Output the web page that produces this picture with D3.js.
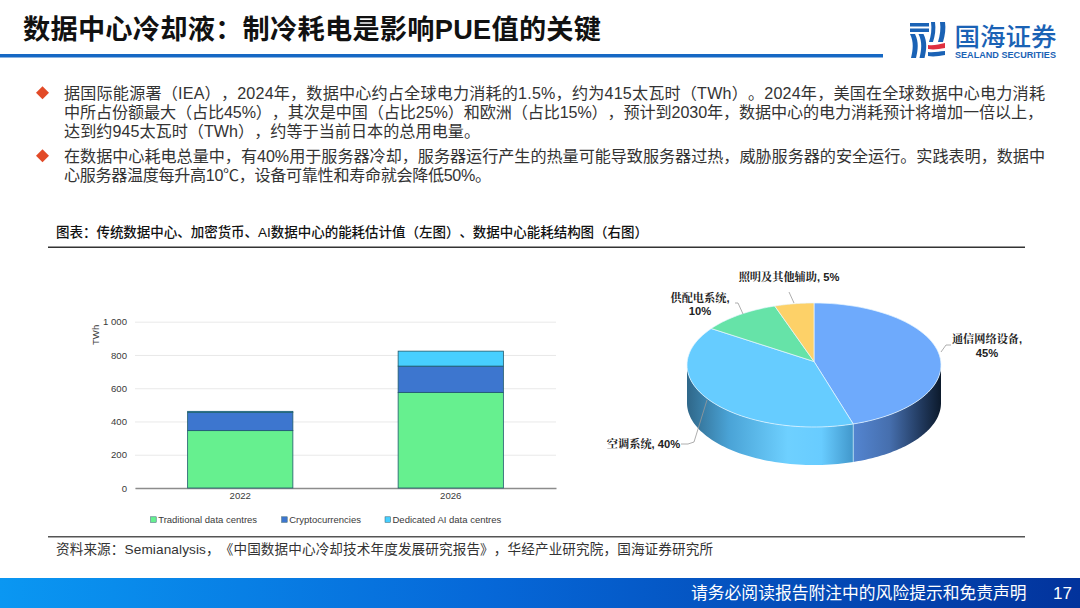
<!DOCTYPE html>
<html><head><meta charset="utf-8">
<script src="https://cdn.jsdelivr.net/npm/d3@7/dist/d3.min.js"></script>
<style>html,body{margin:0;padding:0;background:#fff}svg{display:block}
text{font-family:"Liberation Sans","Noto Sans CJK SC",sans-serif;white-space:pre;text-spacing-trim:space-all}</style></head>
<body><svg id="c" width="1080" height="608"></svg>
<script>
const titleText = "数据中心冷却液：制冷耗电是影响PUE值的关键";
const bulletLines = [
 "据国际能源署（IEA），2024年，数据中心约占全球电力消耗的1.5%，约为415太瓦时（TWh）。2024年，美国在全球数据中心电力消耗",
 "中所占份额最大（占比45%），其次是中国（占比25%）和欧洲（占比15%），预计到2030年，数据中心的电力消耗预计将增加一倍以上，",
 "达到约945太瓦时（TWh），约等于当前日本的总用电量。",
 "在数据中心耗电总量中，有40%用于服务器冷却，服务器运行产生的热量可能导致服务器过热，威胁服务器的安全运行。实践表明，数据中",
 "心服务器温度每升高10℃，设备可靠性和寿命就会降低50%。"
];
const bulletMarks = [1,0,0,1,0];
const figureTitle = "图表：传统数据中心、加密货币、AI数据中心的能耗估计值（左图）、数据中心能耗结构图（右图）";
const sourceText = "资料来源：Semianalysis，《中国数据中心冷却技术年度发展研究报告》，华经产业研究院，国海证券研究所";
const footerText = "请务必阅读报告附注中的风险提示和免责声明";
const pageNo = "17";

const years = ["2022","2026"];
const seriesNames = ["Traditional data centres","Cryptocurrencies","Dedicated AI data centres"];
const traditional = [345,575];
const crypto = [110,158];
const dedicatedAI = [6,90];
const yTicks = [0,200,400,600,800,1000];
const barColors = ["#66f08f","#3d76cf","#47cfff"];

const pieNames = ["通信网络设备","空调系统","供配电系统","照明及其他辅助"];
const pieValues = [45,40,10,5];
const pieColors = ["#6eaafc","#66ccff","#66e3a8","#fdd168"];

const svg = d3.select("#c");
const defs = svg.append("defs");
function grad(id,x1,x2,stops){
  const g=defs.append("linearGradient").attr("id",id).attr("gradientUnits","userSpaceOnUse")
   .attr("x1",x1).attr("x2",x2).attr("y1",0).attr("y2",0);
  stops.forEach(s=>g.append("stop").attr("offset",s[0]).attr("stop-color",s[1]));
}
grad("foot",0,1080,[[0,"#0a97f2"],[0.45,"#0668d8"],[1,"#02339c"]]);
grad("wall1",855,941,[[0,"#5384cf"],[0.4,"#466fae"],[0.75,"#233c62"],[1,"#0c1a2c"]]);
grad("wall2",687,855,[[0,"#2f6789"],[0.25,"#4aa3d6"],[0.6,"#6ed0ff"],[0.8,"#68ccff"],[1,"#3f94c8"]]);

// header
svg.append("text").attr("x",23).attr("y",39).attr("font-size",27.2).attr("font-weight",700).attr("fill","#111").attr("textLength",578).text(titleText);
svg.append("rect").attr("x",0).attr("y",54).attr("width",883).attr("height",3.5).attr("fill","#1668c4");

// logo
const logo = svg.append("g").attr("fill","#1a62b5");
logo.append("path").attr("d","M910 23h19v3.5h-19zM910 28.5h19v3.5h-19zM910 34h5c4 8 3 16 1 24h-5c2-8 3-16-1-24zM918.500 34h5c4 8 3 16 1 24h-5c2-8 3-16-1-24zM931 22h4c1 7 0 14-2 20h-4c2-6 3-13 2-20zM940 22h5c1 7 0 13-2 20h-5c2-7 3-13 2-20z");
logo.append("path").attr("d","M928 45c6 1 11-1 17-2v5c-6 1-11 2-17 1z").attr("fill","#e03040");
logo.append("path").attr("d","M928 52c6 1 11-1 17-1v4c-6 1-11 2-17 1z");
logo.append("text").attr("x",954.5).attr("y",45.5).attr("font-size",25.5).attr("font-weight",500).text("国海证券");
logo.append("text").attr("x",955).attr("y",58).attr("font-size",9).attr("font-weight",700).attr("textLength",101).attr("lengthAdjust","spacingAndGlyphs").text("SEALAND SECURITIES");

// bullets
const lineY=[99,118,137,162,181];
const lineLen=[981,979,416,981,427];
bulletLines.forEach((l,i)=>{
  svg.append("text").attr("x",64).attr("y",lineY[i]).attr("font-size",16.1).attr("fill","#333").attr("textLength",lineLen[i]).text(l);
  if(bulletMarks[i]) svg.append("path").attr("d",d3.symbol(d3.symbolSquare,84)()).attr("transform",`translate(42.5,${lineY[i]-6.3}) rotate(45)`).attr("fill","#e24a27");
});

// figure title
svg.append("text").attr("x",56).attr("y",237).attr("font-size",13.5).attr("font-weight",500).attr("fill","#111").attr("textLength",592).text(figureTitle);
svg.append("rect").attr("x",48).attr("y",246.5).attr("width",977).attr("height",1.5).attr("fill","#333");
svg.append("rect").attr("x",48).attr("y",536).attr("width",977).attr("height",1.5).attr("fill","#555");
svg.append("text").attr("x",56).attr("y",554).attr("font-size",13.6).attr("fill","#333").attr("textLength",657).text(sourceText);

// footer
svg.append("rect").attr("x",0).attr("y",578).attr("width",1080).attr("height",30).attr("fill","url(#foot)");
svg.append("text").attr("x",691).attr("y",599).attr("font-size",16.8).attr("fill","#fff").text(footerText);
svg.append("text").attr("x",1053).attr("y",599).attr("font-size",17).attr("fill","#fff").text(pageNo);

// bar chart
const x=d3.scaleBand().domain(years).range([135,556]).paddingInner(.5).paddingOuter(.25);
const y=d3.scaleLinear().domain([0,1000]).range([488,321.7]);
const fmt=v=>v>=1000?"1 000":String(v);
const yAxis=svg.append("g").attr("transform","translate(135,0)").call(d3.axisLeft(y).tickValues(yTicks).tickSize(-421).tickFormat(fmt).tickPadding(8));
yAxis.select(".domain").remove();
yAxis.selectAll("line").attr("stroke","#e9e9e9").attr("stroke-width",1);
yAxis.selectAll("text").attr("font-size",9.6).attr("fill","#3a3a3a").attr("font-family",'"Liberation Sans"');
const xAxis=svg.append("g").attr("transform","translate(0,488)").call(d3.axisBottom(x).tickSize(0).tickPadding(4));
xAxis.select(".domain").attr("stroke","#8c8c8c").attr("stroke-width",1.5);
xAxis.selectAll("text").attr("font-size",9.6).attr("fill","#3a3a3a").attr("font-family",'"Liberation Sans"');
svg.append("text").attr("transform","translate(98.5,345) rotate(-90)").attr("font-size",9.6).attr("fill","#3a3a3a").text("TWh");
const stack=d3.stack().keys([0,1,2]).value((d,k)=>d[k])(years.map((_,i)=>[traditional[i],crypto[i],dedicatedAI[i]]));
stack.forEach((s,k)=>{
  svg.append("g").selectAll("rect").data(s).join("rect")
   .attr("x",(d,i)=>x(years[i])).attr("width",x.bandwidth())
   .attr("y",d=>y(d[1])).attr("height",d=>y(d[0])-y(d[1]))
   .attr("fill",barColors[k]).attr("stroke","#1f5a6c").attr("stroke-width",.8);
});
const legX=[150.7,281.7,385];
seriesNames.forEach((n,i)=>{
  svg.append("rect").attr("x",legX[i]).attr("y",516.8).attr("width",5.5).attr("height",5.5).attr("fill",barColors[i]).attr("stroke","#2c5a6a").attr("stroke-width",.5);
  svg.append("text").attr("x",legX[i]+7.5).attr("y",523).attr("font-size",9.5).attr("fill","#3a3a3a").text(n);
});

// 3D pie
const cx=814,cy=365,rx=127,ry=62,depth=38,ax=814,ay=361.5;
const arcs=d3.pie().sort(null).value(d=>d)(pieValues);
const px=a=>cx+rx*Math.sin(a), py=a=>cy-ry*Math.cos(a);
function rim(a0,a1,off){ const n=60,p=[]; for(let i=0;i<=n;i++){const a=a0+(a1-a0)*i/n;p.push([px(a),py(a)+off]);} return p;}
const line=d3.line();
[[Math.PI/2,arcs[0].endAngle,"wall1"],[arcs[1].startAngle,Math.PI*1.5,"wall2"]].forEach(w=>{
  const pts=rim(w[0],w[1],0).concat(rim(w[0],w[1],depth).reverse());
  svg.append("path").attr("d",line(pts)+"Z").attr("fill",`url(#${w[2]})`);
});
const sep=arcs[0].endAngle;
svg.append("line").attr("x1",px(sep)).attr("y1",py(sep)).attr("x2",px(sep)).attr("y2",py(sep)+depth).attr("stroke","#bfe4f5").attr("stroke-width",.8);
arcs.forEach((a,i)=>{
  const pts=[[ax,ay]].concat(rim(a.startAngle,a.endAngle,0));
  svg.append("path").attr("d",line(pts)+"Z").attr("fill",pieColors[i]).attr("stroke","#e8f6ff").attr("stroke-width",.7);
});
[[[941,352],[946,345],[951,345]],[[707,400],[694,442],[688,444],[681,444]],[[743,314],[738,303],[735,303]],[[794,303],[789,292]]].forEach(p=>{
  svg.append("path").attr("d",line(p)).attr("fill","none").attr("stroke","#999").attr("stroke-width",.8);
});
const pf='"Liberation Sans","Noto Serif CJK SC","Noto Sans CJK SC",serif';
const pieLabels=[
 {t:[pieNames[0]+",",pieValues[0]+"%"],x:987,y:[343,357]},
 {t:[pieNames[1]+", "+pieValues[1]+"%"],x:643.5,y:[448]},
 {t:[pieNames[2]+",",pieValues[2]+"%"],x:700,y:[302,315]},
 {t:[pieNames[3]+", "+pieValues[3]+"%"],x:789,y:[281]}
];
pieLabels.forEach(l=>l.t.forEach((s,i)=>{
  svg.append("text").attr("x",l.x).attr("y",l.y[i]).attr("text-anchor","middle").attr("font-size",11.2).attr("font-weight",700).attr("fill","#222").style("font-family",pf).text(s);
}));
</script></body></html>
